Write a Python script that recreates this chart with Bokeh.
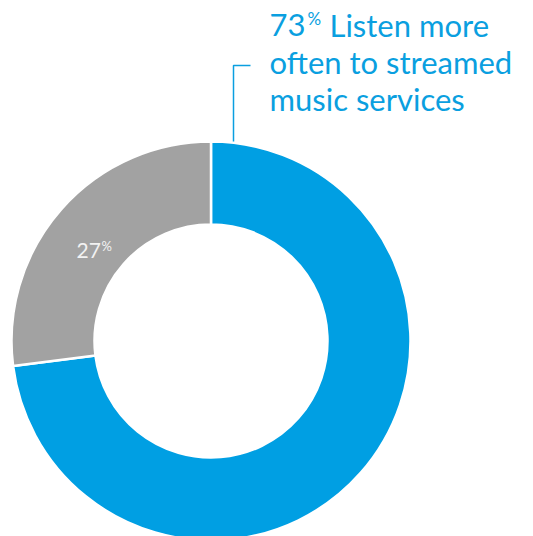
import math
from bokeh.plotting import figure
from bokeh.models import Range1d, Label, ColumnDataSource
from bokeh.embed import file_html
from bokeh.resources import INLINE

# data
categories = ["Listen more often to streamed music services", "Other"]
shares = [73, 27]
colors = ["#009FE3", "#A2A2A2"]

W, H = 533, 536
p = figure(width=W, height=H, output_backend="svg", toolbar_location=None,
           x_range=Range1d(0, W), y_range=Range1d(0, H),
           min_border=0, outline_line_color=None)
p.xaxis.visible = False
p.yaxis.visible = False
p.xgrid.visible = False
p.ygrid.visible = False
p.background_fill_color = "white"
p.border_fill_color = "white"

cx, cy = 210.5, 536 - 340.5
r_out, r_in = 199.5, 116.5

total = sum(shares)
starts, ends = [], []
acc = 0.0
for s in shares:
    a0 = math.pi / 2 - 2 * math.pi * acc / total
    acc += s
    a1 = math.pi / 2 - 2 * math.pi * acc / total
    starts.append(a0)
    ends.append(a1)

src = ColumnDataSource(dict(x=[cx] * len(shares), y=[cy] * len(shares),
                            start=starts, end=ends, color=colors))
p.annular_wedge(x="x", y="y", inner_radius=r_in, outer_radius=r_out,
                start_angle="start", end_angle="end", direction="clock",
                fill_color="color", line_color="white", line_width=2.5, source=src)

blue = "#0A9FE0"
font = "Lato"


def lab(x, base_y, text, size, color):
    # base_y: screen y of the baseline
    p.add_layout(Label(x=x, y=536 - base_y + 0.38 * size, text=text, text_font=font,
                       text_font_size=f"{size}px", text_color=color,
                       text_baseline="alphabetic"))


# leader line
p.line([250, 233, 233], [536 - 65, 536 - 65, 536 - 141], line_color=blue, line_width=1.5)

# main label
lab(269, 36, str(shares[0]), 31, blue)
lab(307, 24, "%", 17, blue)
lab(329, 36, "Listen more", 31, blue)
lab(269, 73, "often to streamed", 31, blue)
lab(269, 110, "music services", 31, blue)

# secondary label
lab(76, 258, str(shares[1]), 21, "#F2F2F2")
lab(101, 250, "%", 13, "#F2F2F2")

open("out.html", "w").write(file_html(p, INLINE))
